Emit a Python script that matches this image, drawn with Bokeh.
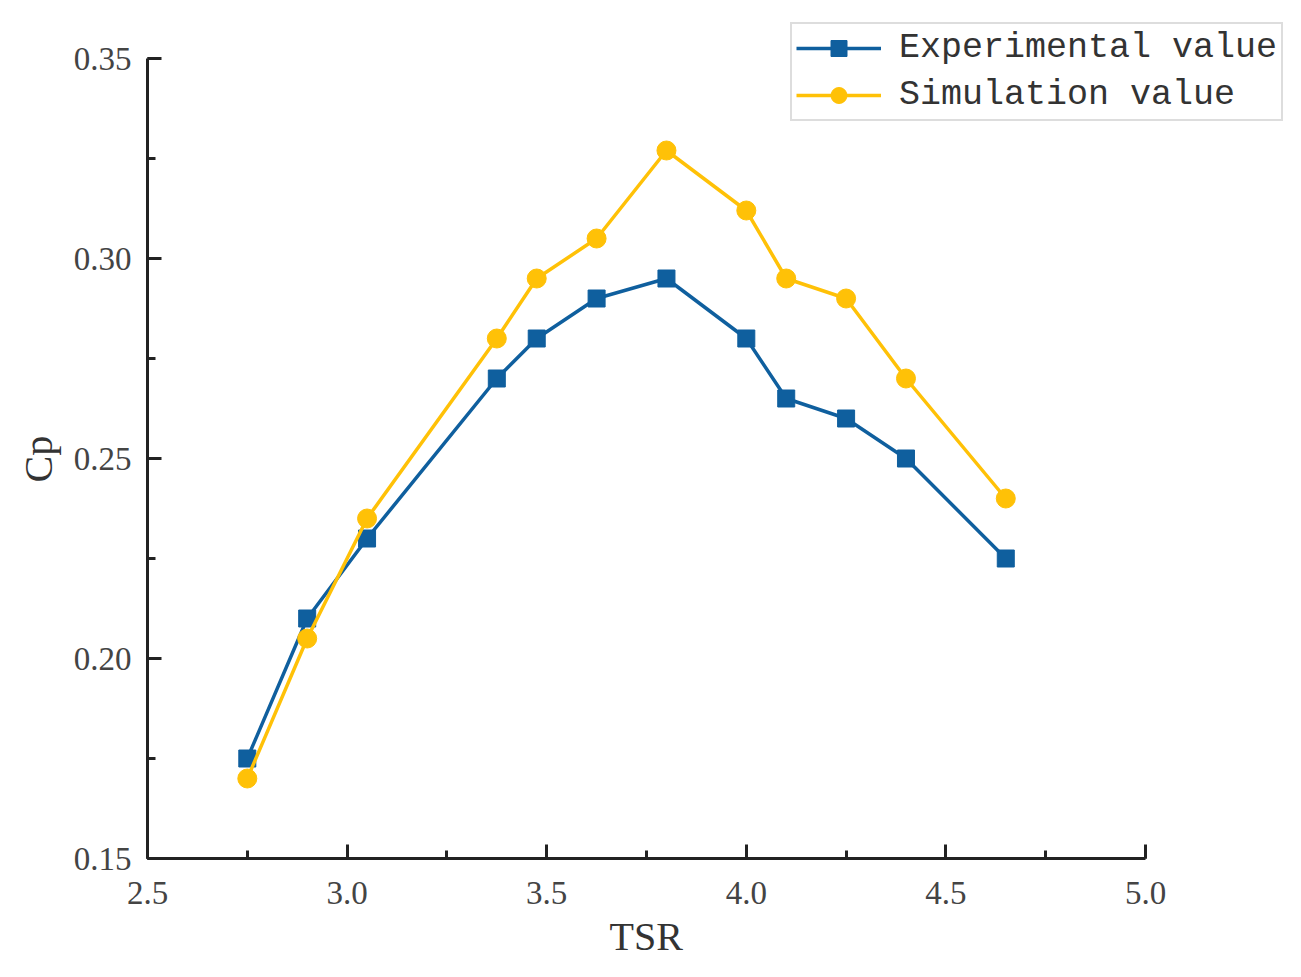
from bokeh.plotting import figure
from bokeh.models import Range1d, SingleIntervalTicker, Legend, LegendItem, CustomJSTickFormatter, Title
from bokeh.embed import file_html
from bokeh.resources import INLINE

tsr = [2.75, 2.9, 3.05, 3.375, 3.475, 3.625, 3.8, 4.0, 4.1, 4.25, 4.4, 4.65]
exp_cp = [0.175, 0.21, 0.23, 0.27, 0.28, 0.29, 0.295, 0.28, 0.265, 0.26, 0.25, 0.225]
sim_cp = [0.17, 0.205, 0.235, 0.28, 0.295, 0.305, 0.327, 0.312, 0.295, 0.29, 0.27, 0.24]

BLUE = "#0f5f9e"
YELLOW = "#ffc107"
SERIF = "Liberation Serif"

# axis extents (drawn part) and pixel scale
X0, X1 = 2.5, 5.0
Y0, Y1 = 0.15, 0.35
PX_PER_X = 998 / (X1 - X0)
PX_PER_Y = 800 / (Y1 - Y0)
FW, FH = 1141, 840

p = figure(frame_width=FW, frame_height=FH, output_backend="svg", toolbar_location=None,
           x_range=Range1d(X0, X0 + FW / PX_PER_X), y_range=Range1d(Y0, Y0 + FH / PX_PER_Y),
           min_border_left=147, min_border_right=5, min_border_top=18, min_border_bottom=30)
p.outline_line_color = None
p.xgrid.visible = False
p.ygrid.visible = False

p.xaxis.ticker = SingleIntervalTicker(interval=0.5, num_minor_ticks=2)
p.yaxis.ticker = SingleIntervalTicker(interval=0.05, num_minor_ticks=2)
p.xaxis.bounds = (X0, X1 + 1e-9)
p.yaxis.bounds = (Y0, Y1 + 1e-9)
p.xaxis.formatter = CustomJSTickFormatter(code="return tick.toFixed(1);")
p.yaxis.formatter = CustomJSTickFormatter(code="return tick.toFixed(2);")

for ax in (p.xaxis, p.yaxis):
    ax.axis_line_width = 3
    ax.axis_line_color = "#222222"
    ax.major_tick_in = 14
    ax.major_tick_out = 0
    ax.minor_tick_in = 8
    ax.minor_tick_out = 0
    ax.major_tick_line_width = 3
    ax.minor_tick_line_width = 3
    ax.major_tick_line_color = "#222222"
    ax.minor_tick_line_color = "#222222"
    ax.major_label_text_font = SERIF
    ax.major_label_text_font_size = "33px"
    ax.major_label_text_color = "#444444"

p.xaxis.major_label_standoff = 23
p.yaxis.major_label_standoff = 16

# axis titles centred on the drawn axis extent
xt = Title(text="TSR", align="left", offset=(X1 - X0) / 2 * PX_PER_X - 37,
           text_font=SERIF, text_font_size="40px", text_font_style="normal",
           text_color="#333333", standoff=11)
p.add_layout(xt, "below")
yt = Title(text="Cp", align="left", offset=(Y1 - Y0) / 2 * PX_PER_Y - 24,
           text_font=SERIF, text_font_size="40px", text_font_style="normal",
           text_color="#333333", standoff=20)
p.add_layout(yt, "left")

l1 = p.line(tsr, exp_cp, line_color=BLUE, line_width=3.5)
m1 = p.scatter(tsr, exp_cp, marker="square", size=17, fill_color=BLUE, line_color=BLUE)
l2 = p.line(tsr, sim_cp, line_color=YELLOW, line_width=3.5)
m2 = p.scatter(tsr, sim_cp, marker="circle", size=19, fill_color=YELLOW, line_color=YELLOW)

legend = Legend(items=[LegendItem(label="Experimental value", renderers=[l1, m1]),
                       LegendItem(label="Simulation value", renderers=[l2, m2])],
                location=(643, 737))
legend.label_text_font = "Liberation Mono"
legend.label_text_font_size = "35px"
legend.label_text_color = "#333333"
legend.glyph_width = 85
legend.glyph_height = 40
legend.label_standoff = 18
legend.spacing = 7
legend.padding = 4
legend.margin = 0
legend.border_line_color = "#bbbbbb"
legend.border_line_width = 2
legend.background_fill_alpha = 1
p.add_layout(legend, "center")

open("out.html", "w").write(file_html(p, INLINE))
